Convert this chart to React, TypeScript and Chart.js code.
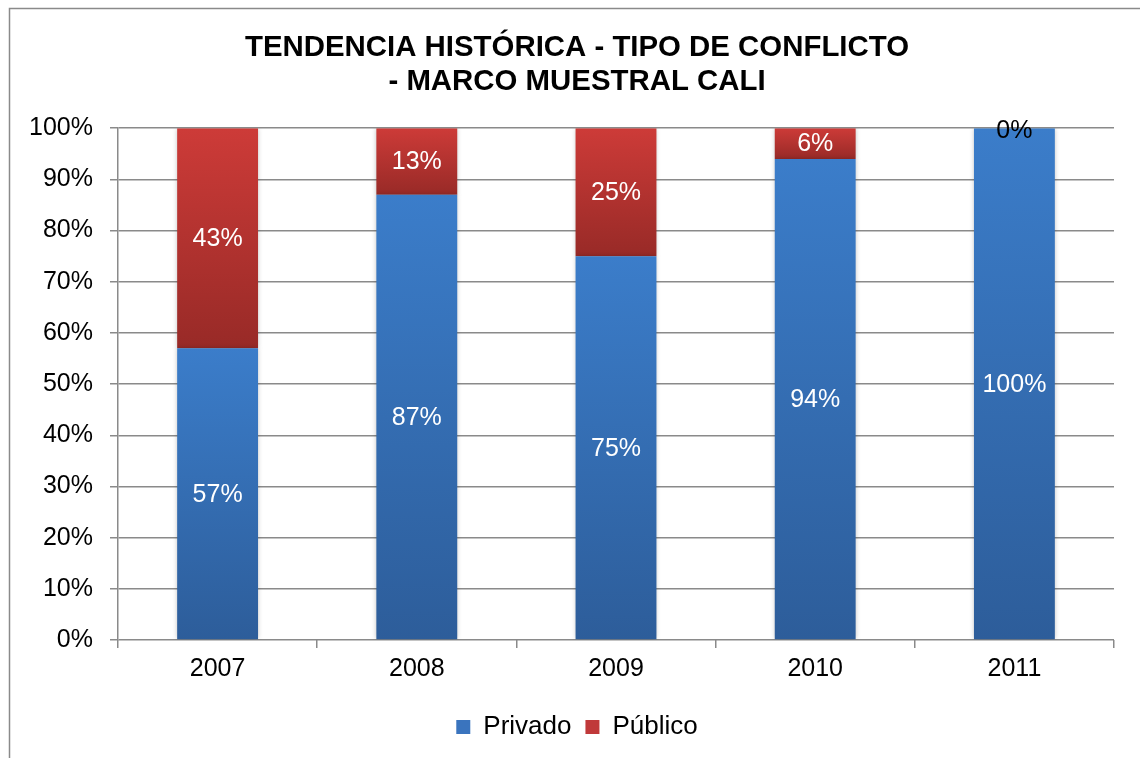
import React, { useEffect, useRef } from "react";
import { Chart, registerables } from "chart.js";

Chart.register(...registerables);

const categories = ["2007", "2008", "2009", "2010", "2011"];
const privado = [57, 87, 75, 94, 100];
const publico = [43, 13, 25, 6, 0];
const yTicks = [0, 10, 20, 30, 40, 50, 60, 70, 80, 90, 100];
const titleLines = ["TENDENCIA HISTÓRICA - TIPO DE CONFLICTO", "- MARCO MUESTRAL CALI"];

const FONT = "'Liberation Sans', Arial, sans-serif";
const gradColors = [
  { top: "#3B7DCA", bottom: "#2D5D9A", solid: "#3A74BE" },
  { top: "#CD3B38", bottom: "#982A27", solid: "#C0393A" },
];

function makeBg(dsIndex: number) {
  return (ctx: any) => {
    const chart = ctx.chart;
    const c = gradColors[dsIndex];
    if (ctx.dataIndex === undefined || !chart.chartArea || !chart.scales.y) return c.solid;
    const i = ctx.dataIndex;
    const sets = chart.data.datasets;
    let start = 0;
    for (let d = 0; d < dsIndex; d++) start += sets[d].data[i] as number;
    const end = start + (sets[dsIndex].data[i] as number);
    const y = chart.scales.y;
    const yTop = y.getPixelForValue(end);
    const yBot = y.getPixelForValue(start);
    if (Math.abs(yBot - yTop) < 1) return c.solid;
    const g = chart.ctx.createLinearGradient(0, yTop, 0, yBot);
    g.addColorStop(0, c.top);
    g.addColorStop(1, c.bottom);
    return g;
  };
}

const framePlugin = {
  id: "frame",
  beforeDraw(chart: any) {
    const ctx = chart.ctx;
    ctx.save();
    ctx.fillStyle = "#ffffff";
    ctx.fillRect(0, 0, chart.width, chart.height);
    ctx.strokeStyle = "#8a8a8a";
    ctx.lineWidth = 1.5;
    ctx.beginPath();
    ctx.moveTo(9.5, chart.height);
    ctx.lineTo(9.5, 8.5);
    ctx.lineTo(chart.width, 8.5);
    ctx.stroke();
    ctx.restore();
  },
};

const shadowPlugin = {
  id: "barShadow",
  beforeDatasetsDraw(chart: any) {
    const ctx = chart.ctx;
    ctx.save();
    ctx.shadowColor = "rgba(0,0,0,0.28)";
    ctx.shadowBlur = 5;
    ctx.shadowOffsetX = 0;
    ctx.shadowOffsetY = 0;
  },
  afterDatasetsDraw(chart: any) {
    chart.ctx.restore();
  },
};

const labelPlugin = {
  id: "segLabels",
  afterDatasetsDraw(chart: any) {
    const ctx = chart.ctx;
    ctx.save();
    ctx.font = `25px ${FONT}`;
    ctx.textAlign = "center";
    ctx.textBaseline = "middle";
    chart.data.datasets.forEach((ds: any, di: number) => {
      const meta = chart.getDatasetMeta(di);
      meta.data.forEach((el: any, i: number) => {
        const v = ds.data[i] as number;
        const cy = (el.y + el.base) / 2 + (v === 0 ? 3 : 1);
        ctx.fillStyle = v === 0 ? "#000000" : "#ffffff";
        ctx.fillText(`${v}%`, el.x, cy);
      });
    });
    ctx.restore();
  },
};

export default function App() {
  const ref = useRef<HTMLCanvasElement | null>(null);
  useEffect(() => {
    if (!ref.current) return;
    const chart = new Chart(ref.current, {
      type: "bar",
      data: {
        labels: categories,
        datasets: [
          { label: "Privado", data: privado, backgroundColor: makeBg(0), borderWidth: 0 },
          { label: "Público", data: publico, backgroundColor: makeBg(1), borderWidth: 0 },
        ],
      },
      options: {
        responsive: false,
        animation: false,
        devicePixelRatio: 1,
        layout: { padding: { left: 40, right: 26, top: 0, bottom: 8 } },
        datasets: { bar: { categoryPercentage: 1, barPercentage: 0.406 } },
        plugins: {
          tooltip: { enabled: false },
          title: {
            display: true,
            text: titleLines,
            color: "#000000",
            font: { family: FONT, size: 29.4, weight: "bold", lineHeight: 1.16 },
            padding: { top: 31, bottom: 29 },
          },
          legend: {
            position: "bottom",
            labels: {
              color: "#000000",
              font: { family: FONT, size: 26 },
              boxWidth: 14,
              boxHeight: 14,
              padding: 14,
              generateLabels: () => [
                { text: "Privado", fillStyle: gradColors[0].solid, strokeStyle: "rgba(0,0,0,0)", lineWidth: 0, datasetIndex: 0, hidden: false },
                { text: "Público", fillStyle: gradColors[1].solid, strokeStyle: "rgba(0,0,0,0)", lineWidth: 0, datasetIndex: 1, hidden: false },
              ],
            },
          },
        },
        scales: {
          x: {
            stacked: true,
            afterFit: (s: any) => { s.height = 60; },
            grid: { display: true, offset: true, drawOnChartArea: false, drawTicks: true, tickLength: 8, color: "#8a8a8a", lineWidth: 1.5 },
            border: { display: false },
            ticks: { color: "#000000", font: { family: FONT, size: 25 }, padding: 6 },
          },
          y: {
            stacked: true,
            min: 0,
            max: 100,
            afterFit: (s: any) => {
              s.width = 78;
              s._computeLabelArea = () => undefined;
            },
            afterBuildTicks: (s: any) => { s.ticks = yTicks.map((v) => ({ value: v })); },
            grid: { color: "#8a8a8a", lineWidth: 1.5, tickLength: 8, drawTicks: true },
            border: { display: true, color: "#8a8a8a", width: 1.5 },
            ticks: {
              color: "#000000",
              font: { family: FONT, size: 25 },
              padding: 17,
              callback: (v: any) => `${v}%`,
            },
          },
        },
      } as any,
      plugins: [framePlugin, shadowPlugin, labelPlugin],
    });
    return () => chart.destroy();
  }, []);
  return (
    <div style={{ position: "fixed", left: 0, top: 0, width: 1140, height: 758 }}>
      <canvas ref={ref} width={1140} height={758} style={{ display: "block" }} />
    </div>
  );
}
